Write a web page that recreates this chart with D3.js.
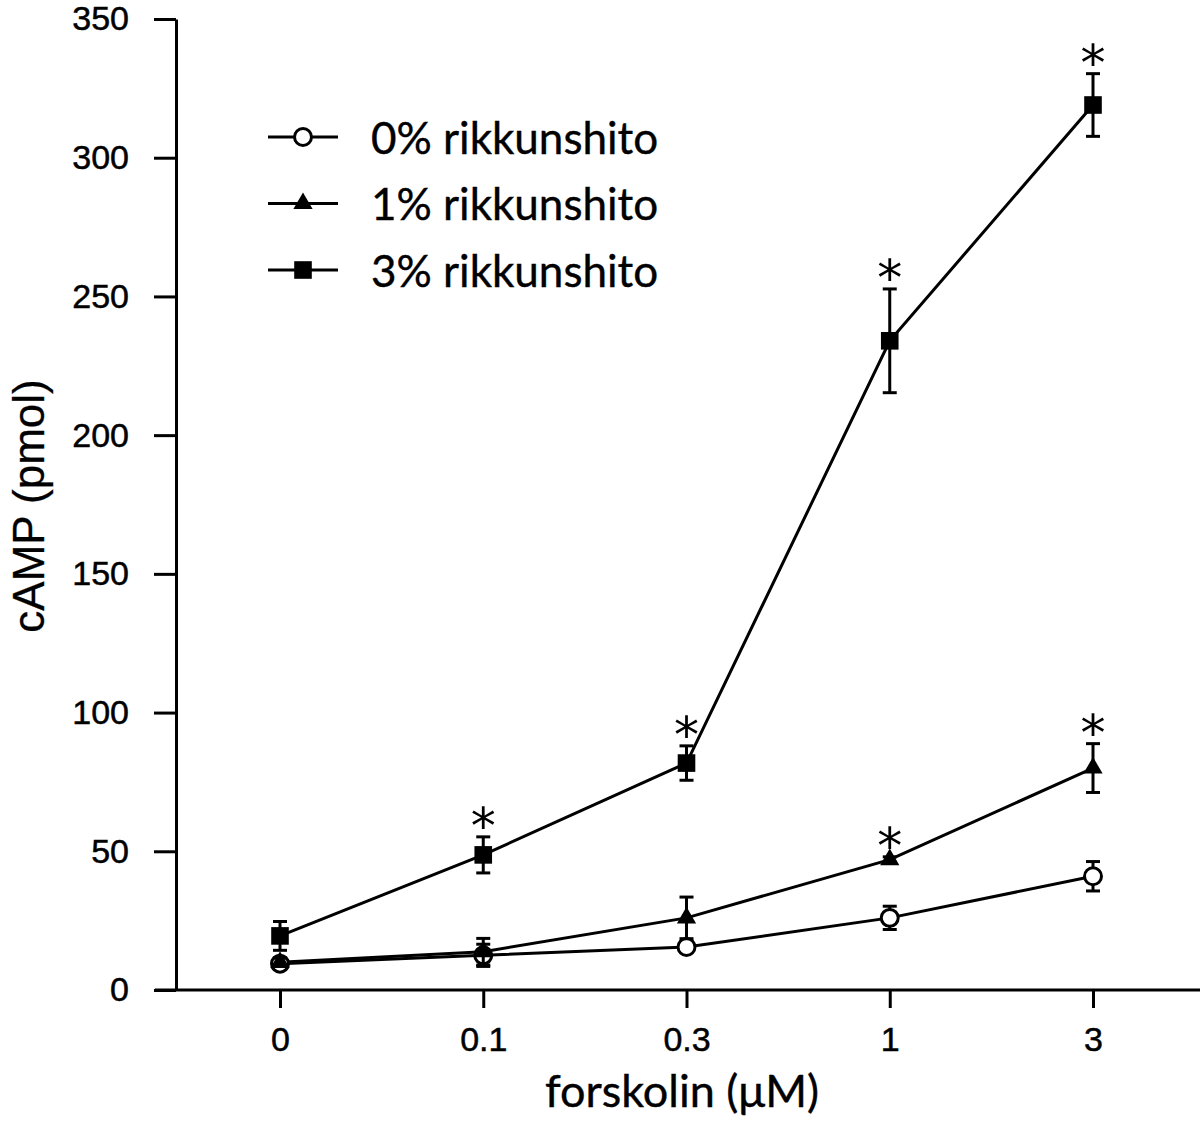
<!DOCTYPE html>
<html>
<head>
<meta charset="utf-8">
<script src="https://cdn.jsdelivr.net/npm/d3@7"></script>
<style>
  body { margin: 0; background: #fff; }
  svg { display: block; }
</style>
</head>
<body>
<div id="chart"></div>
<script>
// forskolin doses (x categories)
var doses = ["0", "0.1", "0.3", "1", "3"];
var yTicks = [0, 50, 100, 150, 200, 250, 300, 350];

// cAMP (pmol), mean and error per dose
var mean0 = [9.5, 12.5, 15.5, 26, 41];
var err0 = [1.5, 4, 1.5, 4.2, 5.3];
var mean1 = [10, 13.8, 26, 47, 80];
var err1 = [1.5, 4.8, 7.5, 1, 8.8];
var mean3 = [19.5, 48.7, 81.8, 234, 319];
var err3 = [5.2, 6.5, 6.2, 18.7, 11.3];

// significance marks (* above the point)
var star1 = [false, false, false, true, true];
var star3 = [false, true, true, true, true];

var seriesNames = ["0% rikkunshito", "1% rikkunshito", "3% rikkunshito"];

var series = [
    { name: seriesNames[0], mean: mean0, err: err0, stars: [false, false, false, false, false], marker: "circle" },
    { name: seriesNames[1], mean: mean1, err: err1, stars: star1, marker: "triangle" },
    { name: seriesNames[2], mean: mean3, err: err3, stars: star3, marker: "square" }
];

var width = 1200,
    height = 1142;

var axisLeftX = 176,
    axisStartX = 155,
    axisEndX = 1200;

var x = d3.scalePoint()
    .domain(doses)
    .range([280, 1093]);

var y = d3.scaleLinear()
    .domain([0, 350])
    .range([990, 19]);

var svg = d3.select("#chart").append("svg")
    .attr("width", width)
    .attr("height", height);

var tickFont = "'Liberation Sans', Arial, sans-serif";

// y axis
var yAxis = svg.append("g")
    .attr("transform", "translate(" + axisLeftX + ",0)")
    .call(d3.axisLeft(y).tickValues(yTicks).tickSize(22).tickSizeOuter(0).tickPadding(25));

yAxis.selectAll("path, line")
    .attr("stroke", "#000")
    .attr("stroke-width", 3);
yAxis.selectAll("text")
    .attr("fill", "#000")
    .attr("stroke", "#000")
    .attr("stroke-width", 0.5)
    .style("font-family", tickFont)
    .style("font-size", "34px");

// x axis
var xAxis = svg.append("g")
    .attr("transform", "translate(0," + y(0) + ")")
    .call(d3.axisBottom(x).tickSize(18).tickPadding(19));

xAxis.select(".domain").remove();
xAxis.append("line")
    .attr("x1", axisStartX)
    .attr("x2", axisEndX)
    .attr("stroke", "#000")
    .attr("stroke-width", 3);
xAxis.selectAll("line")
    .attr("stroke", "#000")
    .attr("stroke-width", 3);
xAxis.selectAll("text")
    .attr("fill", "#000")
    .attr("stroke", "#000")
    .attr("stroke-width", 0.5)
    .style("font-family", tickFont)
    .style("font-size", "34px");

// axis titles
svg.append("text")
    .attr("x", 682)
    .attr("y", 1107)
    .attr("text-anchor", "middle")
    .attr("stroke", "#000")
    .attr("stroke-width", 0.4)
    .style("font-family", "Lato, sans-serif")
    .style("font-size", "45px")
    .text("forskolin (\u03bcM)");

svg.append("text")
    .attr("transform", "translate(44,506) rotate(-90)")
    .attr("text-anchor", "middle")
    .attr("stroke", "#000")
    .attr("stroke-width", 0.3)
    .style("font-family", tickFont)
    .style("font-size", "44px")
    .text("cAMP (pmol)");

function symbolPath(type) {
    if (type === "triangle") return d3.symbol().type(d3.symbolTriangle).size(160)();
    if (type === "square") return d3.symbol().type(d3.symbolSquare).size(310)();
    return d3.symbol().type(d3.symbolCircle).size(Math.PI * 72)();
}

var line = d3.line()
    .x(function (d, i) { return x(doses[i]); })
    .y(function (d) { return y(d); });

// lines
svg.selectAll(".series-line")
    .data(series)
    .enter().append("path")
    .attr("class", "series-line")
    .attr("d", function (d) { return line(d.mean); })
    .attr("fill", "none")
    .attr("stroke", "#000")
    .attr("stroke-width", 3);

// error bars, markers and stars
series.forEach(function (s) {
    var pts = s.mean.map(function (m, i) {
        return { dose: doses[i], mean: m, err: s.err[i], star: s.stars[i] };
    });

    var g = svg.append("g");

    var eb = g.selectAll(".eb")
        .data(pts)
        .enter().append("g")
        .attr("class", "eb")
        .attr("stroke", "#000")
        .attr("stroke-width", 3);

    eb.append("line")
        .attr("x1", function (d) { return x(d.dose); })
        .attr("x2", function (d) { return x(d.dose); })
        .attr("y1", function (d) { return y(d.mean - d.err); })
        .attr("y2", function (d) { return y(d.mean + d.err); });
    eb.append("line")
        .attr("x1", function (d) { return x(d.dose) - 7; })
        .attr("x2", function (d) { return x(d.dose) + 7; })
        .attr("y1", function (d) { return y(d.mean + d.err); })
        .attr("y2", function (d) { return y(d.mean + d.err); });
    eb.append("line")
        .attr("x1", function (d) { return x(d.dose) - 7; })
        .attr("x2", function (d) { return x(d.dose) + 7; })
        .attr("y1", function (d) { return y(d.mean - d.err); })
        .attr("y2", function (d) { return y(d.mean - d.err); });

    g.selectAll(".pt")
        .data(pts)
        .enter().append("path")
        .attr("class", "pt")
        .attr("transform", function (d) { return "translate(" + x(d.dose) + "," + y(d.mean) + ")"; })
        .attr("d", symbolPath(s.marker))
        .attr("fill", s.marker === "circle" ? "#fff" : "#000")
        .attr("stroke", "#000")
        .attr("stroke-width", s.marker === "circle" ? 3 : 0);

    // star glyph centre sits ~0.59em above its baseline
    g.selectAll(".star")
        .data(pts.filter(function (d) { return d.star; }))
        .enter().append("text")
        .attr("class", "star")
        .attr("x", function (d) { return x(d.dose); })
        .attr("y", function (d) { return y(d.mean + d.err) - 23 + 29; })
        .attr("text-anchor", "middle")
        .style("font-family", "'DejaVu Sans', sans-serif")
        .style("font-size", "50px")
        .text("*");
});

// legend
var legend = svg.selectAll(".legend")
    .data(series)
    .enter().append("g")
    .attr("class", "legend")
    .attr("transform", function (d, i) { return "translate(303," + (137 + i * 66.5) + ")"; });

legend.append("line")
    .attr("x1", -35)
    .attr("x2", 35)
    .attr("stroke", "#000")
    .attr("stroke-width", 3);

legend.append("path")
    .attr("d", function (d) { return symbolPath(d.marker); })
    .attr("fill", function (d) { return d.marker === "circle" ? "#fff" : "#000"; })
    .attr("stroke", "#000")
    .attr("stroke-width", function (d) { return d.marker === "circle" ? 3 : 0; });

legend.append("text")
    .attr("x", 68)
    .attr("dy", "0.38em")
    .attr("stroke", "#000")
    .attr("stroke-width", 0.4)
    .style("font-family", "Lato, sans-serif")
    .style("font-size", "44px")
    .text(function (d) { return d.name; });
</script>
</body>
</html>
